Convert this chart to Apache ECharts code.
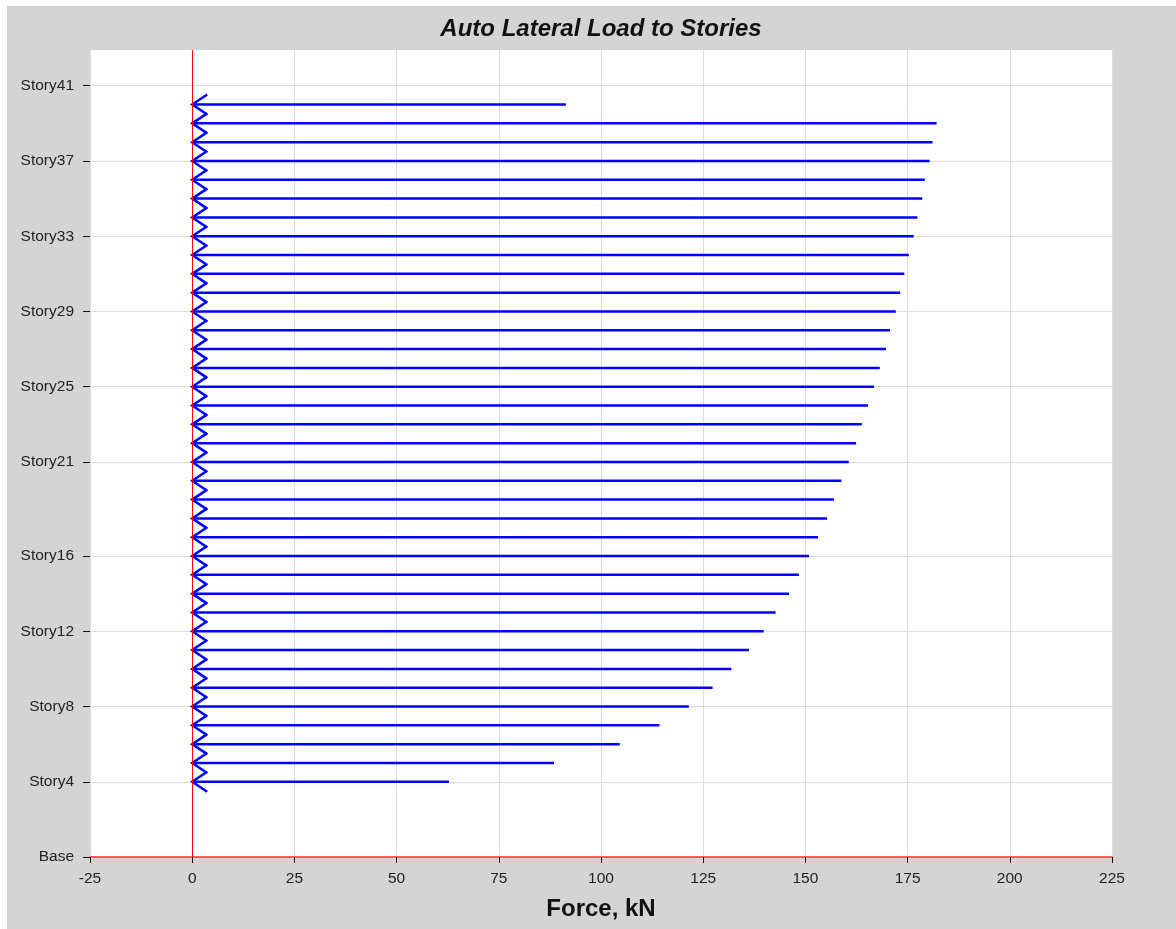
<!DOCTYPE html>
<html>
<head>
<meta charset="utf-8">
<script src="https://cdn.jsdelivr.net/npm/echarts@6/dist/echarts.min.js"></script>
<style>
  html, body { margin: 0; padding: 0; background: #ffffff; width: 1176px; height: 929px; overflow: hidden; }
  #chart { position: absolute; left: 7px; top: 6px; width: 1169px; height: 923px; background: #d4d4d4; }
</style>
</head>
<body>
<div id="chart"></div>
<script>
// Story levels (Base = 0) that carry an auto lateral load
var storyLevels = [4, 5, 6, 7, 8, 9, 10, 11, 12, 13, 14, 15, 16, 17, 18, 19, 20,
  21, 22, 23, 24, 25, 26, 27, 28, 29, 30, 31, 32, 33, 34, 35, 36, 37, 38, 39, 40];

// Lateral force at each of those levels, kN
var storyForces = [62.8, 88.5, 104.6, 114.3, 121.5, 127.3, 131.9, 136.2, 139.8, 142.7,
  146.0, 148.4, 150.9, 153.1, 155.3, 157.0, 158.8, 160.6, 162.4, 163.8,
  165.3, 166.8, 168.2, 169.7, 170.7, 172.1, 173.2, 174.2, 175.3, 176.5,
  177.4, 178.6, 179.2, 180.4, 181.1, 182.1, 91.4];

// Labelled levels on the vertical axis
var tickLevels = [0, 4, 8, 12, 16, 21, 25, 29, 33, 37, 41];
var tickNames = ['Base', 'Story4', 'Story8', 'Story12', 'Story16', 'Story21',
  'Story25', 'Story29', 'Story33', 'Story37', 'Story41'];

var loads = storyLevels.map(function (lvl, i) { return [storyForces[i], lvl]; });

var chart = echarts.init(document.getElementById('chart'), null, { renderer: 'canvas' });

var FONT = '"Liberation Sans", Arial, sans-serif';

chart.setOption({
  animation: false,
  backgroundColor: '#d4d4d4',
  title: {
    text: 'Auto Lateral Load to Stories',
    left: 589,
    textAlign: 'center',
    top: 6,
    textStyle: { fontFamily: FONT, fontSize: 24, fontWeight: 'bold', fontStyle: 'italic', color: '#111' }
  },
  grid: { left: 83, right: 64, top: 44, bottom: 72, backgroundColor: '#ffffff', show: true, borderWidth: 0 },
  xAxis: {
    type: 'value',
    min: -25,
    max: 225,
    interval: 25,
    name: 'Force, kN',
    nameLocation: 'middle',
    nameGap: 40,
    nameTextStyle: { fontFamily: FONT, fontSize: 24, fontWeight: 'bold', color: '#111' },
    axisLine: { show: true, onZero: false, lineStyle: { color: '#ff2a2a', width: 1.5 } },
    axisTick: { show: true, inside: false, length: 6, lineStyle: { color: '#111', width: 1 } },
    axisLabel: { fontFamily: FONT, fontSize: 15.5, color: '#222', margin: 14 },
    splitLine: { show: true, lineStyle: { color: '#dcdcdc', width: 1 } }
  },
  yAxis: {
    type: 'value',
    min: 0,
    max: 42.9,
    axisLine: { show: false, onZero: false },
    axisTick: { show: true, inside: false, length: 7, customValues: tickLevels, lineStyle: { color: '#111', width: 1 } },
    axisLabel: {
      customValues: tickLevels,
      fontFamily: FONT, fontSize: 15.5, color: '#222', margin: 16,
      formatter: function (v) {
        var i = tickLevels.indexOf(Math.round(v));
        return i >= 0 ? tickNames[i] : '';
      }
    },
    splitLine: { show: true, lineStyle: { color: '#dcdcdc', width: 1 } }
  },
  series: [{
    type: 'custom',
    data: loads,
    encode: { x: 0, y: 1 },
    renderItem: function (params, api) {
      var lvl = api.value(1);
      var tip = api.coord([0, lvl]);
      var end = api.coord([api.value(0), lvl]);
      var stroke = { stroke: '#0000ff', lineWidth: 2.5, fill: null };
      return {
        type: 'group',
        children: [
          { type: 'line', shape: { x1: tip[0], y1: tip[1], x2: end[0], y2: end[1] }, style: stroke },
          { type: 'polyline', shape: { points: [[tip[0] + 15, tip[1] - 10], [tip[0], tip[1]], [tip[0] + 15, tip[1] + 10]] }, style: stroke }
        ]
      };
    },
    markLine: {
      silent: true,
      symbol: 'none',
      label: { show: false },
      lineStyle: { color: '#ff0000', width: 1, type: 'solid' },
      data: [{ xAxis: 0 }]
    },
    z: 3
  }]
});
</script>
</body>
</html>
